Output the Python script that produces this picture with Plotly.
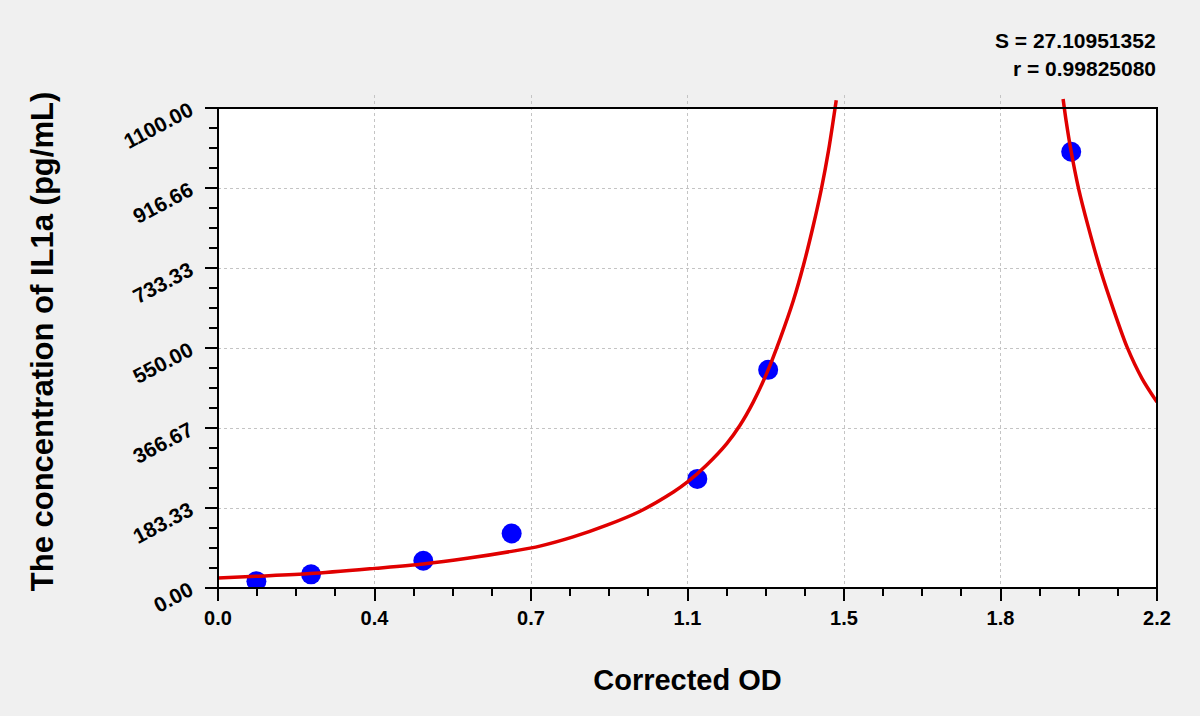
import numpy as np
import plotly.graph_objects as go

# standard points (corrected OD vs concentration)
std_od = [0.090, 0.218, 0.481, 0.688, 1.123, 1.289, 1.999]
std_conc = [15.63, 31.25, 62.5, 125, 250, 500, 1000]

# fitted curve (two branches around the pole)
curve_left_od = [0.0, 0.09, 0.216, 0.367, 0.481, 0.584, 0.688, 0.754, 0.832, 0.911,
                 0.989, 1.067, 1.100, 1.145, 1.192, 1.223, 1.254, 1.286, 1.318, 1.348,
                 1.372, 1.395, 1.4135, 1.4305, 1.4415, 1.4485]
curve_left_conc = [23, 27, 33, 45, 55, 68, 84, 96, 117, 144,
                   176, 220, 243, 282, 331, 373, 426, 493, 574, 659,
                   741, 832, 914, 1003, 1072, 1118]
curve_right_od = [1.980, 1.9875, 1.9975, 2.0164, 2.0384, 2.0672, 2.0985, 2.130, 2.165, 2.200]
curve_right_conc = [1121, 1068, 1008, 915, 830, 730, 637, 552, 480, 426]

x_tick_labels = ["0.0", "0.4", "0.7", "1.1", "1.5", "1.8", "2.2"]
y_tick_labels = ["0.00", "183.33", "366.67", "550.00", "733.33", "916.66", "1100.00"]

fit_s = "27.10951352"
fit_r = "0.99825080"

X_MAX = 2.2
Y_MAX = 1100
Y_TOP = 1130  # a little headroom so the curve can run past the frame

x_ticks = np.linspace(0, X_MAX, len(x_tick_labels))
y_ticks = np.linspace(0, Y_MAX, len(y_tick_labels))

font = "Arial, Liberation Sans, sans-serif"
red = "#e00000"

fig = go.Figure()
fig.add_trace(go.Scatter(
    x=std_od, y=std_conc, mode="markers",
    marker=dict(color="#0000ff", size=20, line=dict(width=0)),
))
for cx, cy in [(curve_left_od, curve_left_conc), (curve_right_od, curve_right_conc)]:
    fig.add_trace(go.Scatter(
        x=cx, y=cy, mode="lines",
        line=dict(color=red, width=3.5, shape="spline", smoothing=0.8),
    ))

frame_top = Y_MAX / Y_TOP
# white plot area and the black frame (paper refs so nothing gets clipped)
fig.add_shape(type="rect", xref="paper", yref="paper", x0=0, x1=1, y0=0, y1=frame_top,
              fillcolor="white", line=dict(width=0), layer="below")
fig.add_shape(type="rect", xref="paper", yref="paper", x0=0, x1=1, y0=0, y1=frame_top,
              fillcolor="rgba(0,0,0,0)", line=dict(color="black", width=2), layer="above")

fig.update_xaxes(
    range=[0, X_MAX], tickmode="array", tickvals=x_ticks, ticktext=x_tick_labels,
    ticks="outside", ticklen=12, tickwidth=1.5, tickcolor="black",
    minor=dict(tickmode="linear", tick0=0, dtick=X_MAX / 24, ticks="outside",
               ticklen=7, tickwidth=1.5, tickcolor="black", showgrid=False),
    showgrid=True, gridcolor="#c4c4c4", griddash="dot", gridwidth=1,
    showline=False, zeroline=False,
    tickfont=dict(family=font, size=20, color="black", weight="bold"),
    title=dict(text="Corrected OD", standoff=41,
               font=dict(family=font, size=29, color="black", weight="bold")),
)
fig.update_yaxes(
    range=[0, Y_TOP], tickmode="array", tickvals=y_ticks, ticktext=y_tick_labels,
    ticks="outside", ticklen=12, tickwidth=1.5, tickcolor="black", tickangle=-28,
    ticklabelstandoff=11,
    minor=dict(tickmode="linear", tick0=0, dtick=Y_MAX / 24, ticks="outside",
               ticklen=8, tickwidth=1.5, tickcolor="black", showgrid=False),
    showgrid=True, gridcolor="#c4c4c4", griddash="dot", gridwidth=1,
    showline=False, zeroline=False,
    tickfont=dict(family=font, size=21, color="black", weight="bold"),
    title=dict(text="The concentration of IL1a (pg/mL)", standoff=56,
               font=dict(family=font, size=31, color="black", weight="bold")),
)

fig.add_annotation(xref="paper", yref="paper", x=1.001, y=1.111, xanchor="right",
                   yanchor="middle", showarrow=False, align="right",
                   text=f"<b>S = {fit_s}</b>",
                   font=dict(family=font, size=21, color="black"))
fig.add_annotation(xref="paper", yref="paper", x=1.001, y=1.053, xanchor="right",
                   yanchor="middle", showarrow=False, align="right",
                   text=f"<b>r = {fit_r}</b>",
                   font=dict(family=font, size=21, color="black"))

fig.update_layout(
    width=1200, height=716,
    margin=dict(l=218, r=43, t=95, b=128),
    paper_bgcolor="#f0f0f0", plot_bgcolor="#f0f0f0",
    showlegend=False,
)

# drop the browser's default body margin so the figure fills the window
fig.write_html("out.html", config={"displayModeBar": False},
               post_script="document.body.style.margin='0';")
